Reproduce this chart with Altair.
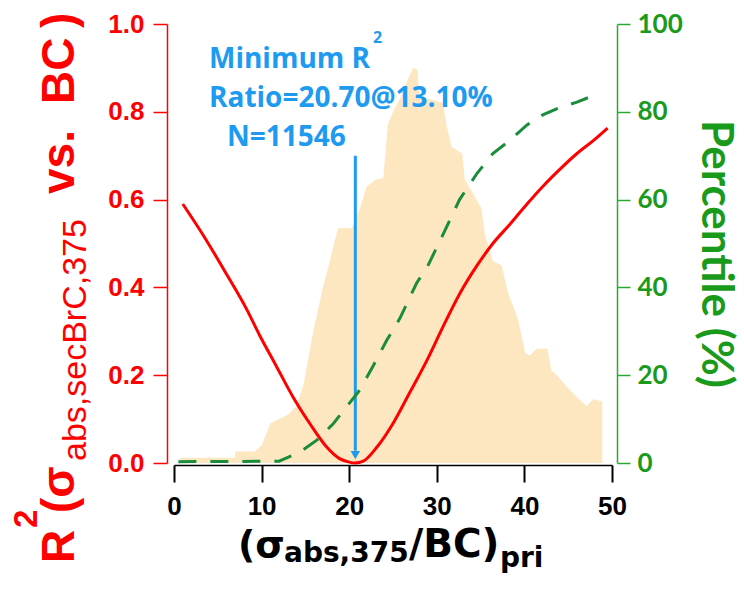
import altair as alt
import pandas as pd

# ---------------- data ----------------
hist_x = [0.7, 6.95, 7.0, 9.2, 10.0, 11.0, 12.0, 13.0, 14.0, 14.8, 15.9, 17.0, 17.8, 18.7,
          20.3, 21.2, 22.0, 23.0, 23.9, 24.4, 25.0, 25.8, 26.6, 27.3, 27.8, 28.0, 29.0,
          30.7, 31.1, 31.7, 32.9, 33.2, 34.1, 35.1, 35.5, 36.4, 37.4, 38.1, 39.3, 40.1,
          40.6, 41.4, 42.6, 43.1, 43.7, 44.8, 46.0, 47.1, 47.9, 48.9]
hist_y = [0.012, 0.012, 0.026, 0.026, 0.04, 0.09, 0.10, 0.11, 0.13, 0.18, 0.30, 0.40, 0.46, 0.535,
          0.535, 0.58, 0.63, 0.645, 0.65, 0.77, 0.80, 0.83, 0.87, 0.90, 0.895, 0.83, 0.83,
          0.82, 0.77, 0.72, 0.705, 0.645, 0.615, 0.58, 0.52, 0.46, 0.45, 0.39, 0.325, 0.25,
          0.245, 0.26, 0.26, 0.21, 0.20, 0.175, 0.15, 0.13, 0.145, 0.14]

r2_x = [1.0, 3.3, 6.0, 8.3, 9.8, 11.7, 13.6, 15.5, 17.4, 18.9, 20.0, 20.7, 21.6, 23.2, 25.0,
        26.9, 28.9, 30.7, 32.6, 34.6, 36.4, 38.4, 40.3, 42.1, 44.1, 46.0, 47.9, 49.5]
r2_y = [0.59, 0.52, 0.43, 0.35, 0.29, 0.22, 0.15, 0.09, 0.037, 0.01, 0.002, 0.0, 0.004, 0.037, 0.09,
        0.16, 0.235, 0.31, 0.385, 0.45, 0.50, 0.545, 0.59, 0.63, 0.67, 0.705, 0.735, 0.763]

pct_x = [0.5, 12.0, 14.4, 16.3, 18.2, 19.7, 21.2, 22.7, 24.3, 25.8, 27.7, 28.9, 30.7, 32.6,
         34.6, 36.4, 38.4, 40.3, 42.1, 44.1, 46.0, 47.5]
pct_y = [0.3, 0.4, 2.5, 5.2, 9.0, 12.8, 16.6, 22.0, 28.0, 33.0, 41.0, 44.6, 52.0, 60.0,
         66.0, 70.5, 73.6, 77.0, 79.3, 81.0, 82.2, 83.4]

x_ticks = [0, 10, 20, 30, 40, 50]
left_ticks = [0.0, 0.2, 0.4, 0.6, 0.8, 1.0]
right_ticks = [0, 20, 40, 60, 80, 100]

min_ratio = 20.70
arrow_top = 0.70
arrow_tip = 0.018

ann_lines = ["Minimum R", "2", "Ratio=20.70@13.10%", "N=11546"]
left_title = ["R", "2", "(σ", "abs,secBrC,375", "vs.", "BC", ")"]
x_title = ["(σ", "abs,375", "/BC)", "pri"]
right_title = "Percentile (%)"

# ---------------- style ----------------
W, H = 438, 439
RED = "#FF0000"
GREEN_AX = "#2EA82E"
GREEN_TXT = "#1A9A1A"
GREEN_LINE = "#1A8C3C"
BLUE = "#1E9BF0"
FILL = "#FDE7C0"
ARIAL = "Liberation Sans"
WIDE = "DejaVu Sans"

xscale = alt.Scale(domain=[0, 50], nice=False, zero=False)
yl = alt.Scale(domain=[0, 1], nice=False)
yr = alt.Scale(domain=[0, 100], nice=False)

hist_df = pd.DataFrame({"x": hist_x, "v": hist_y})
r2_df = pd.DataFrame({"x": r2_x, "v": r2_y})
pct_df = pd.DataFrame({"x": pct_x, "p": pct_y})
arr_df = pd.DataFrame({"x": [min_ratio], "y1": [arrow_top], "y2": [arrow_tip + 0.01], "tip": [arrow_tip]})

x_axis = alt.Axis(values=x_ticks, title=None, grid=False, offset=2, tickSize=17, tickWidth=2,
                  tickColor="black", domainColor="black", domainWidth=1.5,
                  labelFont=ARIAL, labelFontWeight="bold", labelFontSize=26, labelColor="black",
                  labelPadding=11, labelFlush=False)
yl_axis = alt.Axis(values=left_ticks, format=".1f", title=None, grid=False, offset=7, tickSize=14,
                   tickWidth=1.5, tickColor=RED, domainColor=RED, domainWidth=1.5,
                   labelFont=ARIAL, labelFontWeight="bold", labelFontSize=26, labelColor=RED,
                   labelPadding=9, labelFlush=False)
yr_axis = alt.Axis(values=right_ticks, title=None, grid=False, orient="right", offset=5, tickSize=13,
                   tickWidth=1.5, tickColor=GREEN_AX, domainColor=GREEN_AX, domainWidth=1.5,
                   labelFont="Lato", labelFontWeight="bold", labelFontSize=26, labelColor=GREEN_TXT,
                   labelPadding=7, labelFlush=False)

X = alt.X("x:Q", scale=xscale, axis=x_axis)

area = alt.Chart(hist_df).mark_area(color=FILL, interpolate="linear").encode(
    x=X, y=alt.Y("v:Q", scale=yl, axis=yl_axis),
)
red = alt.Chart(r2_df).mark_line(color=RED, strokeWidth=3, interpolate="monotone").encode(
    x=X, y=alt.Y("v:Q", scale=yl, axis=yl_axis),
)
rule = alt.Chart(arr_df).mark_rule(color=BLUE, strokeWidth=3).encode(
    x=X, y=alt.Y("y1:Q", scale=yl, axis=yl_axis), y2="y2:Q",
)
head = alt.Chart(arr_df).mark_point(shape="triangle-down", filled=True, size=90, color=BLUE, opacity=1).encode(
    x=X, y=alt.Y("tip:Q", scale=yl, axis=yl_axis),
)
left = alt.layer(area, red, rule, head)

green = alt.Chart(pct_df).mark_line(color=GREEN_LINE, strokeWidth=3, strokeDash=[18, 14]).encode(
    x=X, y=alt.Y("p:Q", scale=yr, axis=yr_axis),
)


def txt(s, x, y, size, color, font, weight="bold", angle=0):
    return alt.Chart(pd.DataFrame({"t": [s]})).mark_text(
        align="left", baseline="alphabetic", font=font, fontSize=size, fontWeight=weight,
        color=color, angle=angle,
    ).encode(x=alt.value(x), y=alt.value(y), text="t:N")


OX, OY = 174, 24  # page position of the plot-area origin
texts = [
    # annotation
    txt(ann_lines[0], 209 - OX, 68 - OY, 28, BLUE, "Open Sans"),
    txt(ann_lines[1], 373 - OX, 43 - OY, 16, BLUE, "Open Sans"),
    txt(ann_lines[2], 209 - OX, 107 - OY, 28, BLUE, "Open Sans"),
    txt(ann_lines[3], 227 - OX, 146 - OY, 28, BLUE, "Open Sans"),
    # left title (rotated)
    txt(left_title[0], 74 - OX, 563 - OY, 46, RED, ARIAL, angle=270),
    txt(left_title[1], 37 - OX, 528 - OY, 33, RED, ARIAL, angle=270),
    txt(left_title[2], 74 - OX, 513 - OY, 46, RED, ARIAL, angle=270),
    txt(left_title[3], 86 - OX, 461 - OY, 34, RED, ARIAL, weight="normal", angle=270),
    txt(left_title[4], 74 - OX, 194 - OY, 46, RED, ARIAL, angle=270),
    txt(left_title[5], 74 - OX, 104 - OY, 46, RED, ARIAL, angle=270),
    txt(left_title[6], 74 - OX, 28 - OY, 46, RED, ARIAL, angle=270),
    # x title
    txt(x_title[0], 238 - OX, 557 - OY, 38, "black", WIDE),
    txt(x_title[1], 284 - OX, 562 - OY, 28, "black", WIDE),
    txt(x_title[2], 409 - OX, 557 - OY, 39, "black", WIDE),
    txt(x_title[3], 500 - OX, 567 - OY, 28, "black", WIDE),
    # right title
    txt(right_title, 702 - OX, 120 - OY, 44, GREEN_TXT, "Lato", angle=90),
]

chart = alt.layer(left, green, *texts).resolve_scale(y="independent").properties(
    width=W, height=H,
    autosize=alt.AutoSizeParams(type="none"),
    padding={"left": OX, "top": OY, "right": 744 - OX - W, "bottom": 593 - OY - H},
    background="white",
).configure_view(stroke=None)

chart.save("out.html", embed_options={"renderer": "svg", "actions": False})
